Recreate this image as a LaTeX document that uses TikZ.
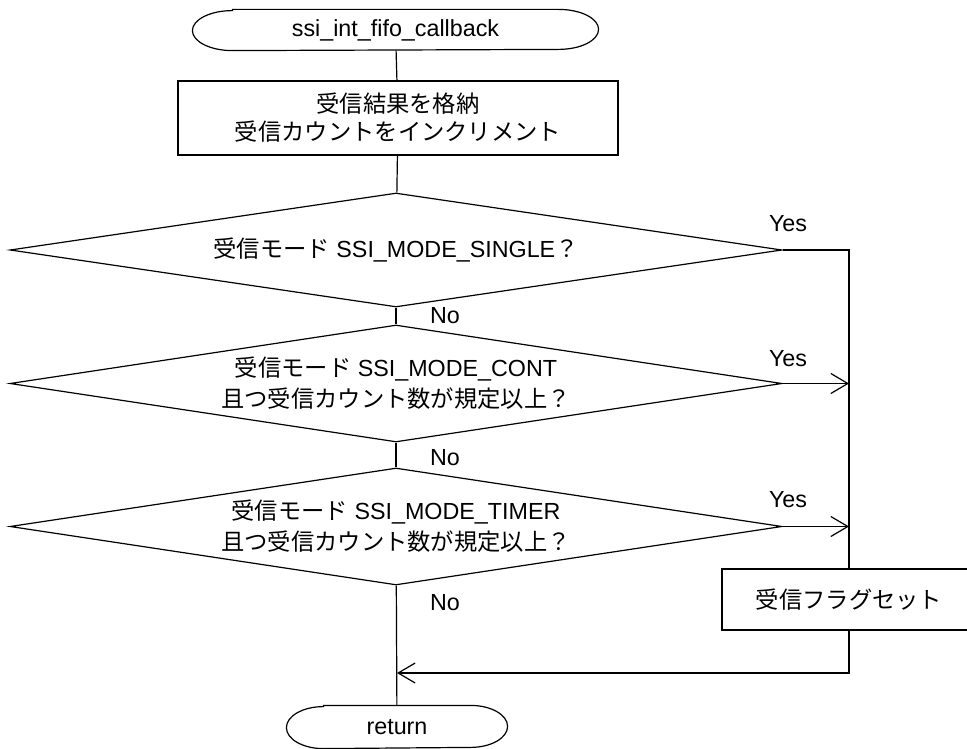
\documentclass[tikz,border=0pt]{standalone}
\usepackage{fontspec}
\setmainfont{Liberation Sans}
\newfontfamily\cjk{Noto Sans CJK JP}
\usetikzlibrary{shapes.geometric,arrows.meta}
\begin{document}
\begin{tikzpicture}[x=1pt,y=-1pt,line width=1.2pt,
  every node/.style={font=\fontsize{23.3}{28}\selectfont},
  term/.style={rectangle,inner sep=0pt},
  proc/.style={draw,rectangle,inner sep=0pt,align=center},
  dec/.style={draw,diamond,inner sep=0pt,minimum width=772pt},
  txt/.style={inner sep=0pt,align=center,font=\fontsize{23.3}{31}\selectfont},
  lbl/.style={inner sep=0pt},
  arr/.style={-{Straight Barb[length=17pt,width=20pt]}}]
\useasboundingbox (0,0) rectangle (967,749);
\clip (0,0) rectangle (967,749);
% nodes
\node[term,minimum width=405pt,minimum height=40pt] (start) at (395.5,30) {ssi\_int\_fifo\_callback};
\draw ([xshift=40pt]start.north west) -- ([xshift=-40pt]start.north east)
  arc[start angle=90,end angle=-90,x radius=40pt,y radius=20pt]
  -- ([xshift=40pt]start.south west)
  arc[start angle=-90,end angle=-270,x radius=40pt,y radius=20pt] -- cycle;
\node[proc,minimum width=440pt,minimum height=74pt] (p1) at (398,118) {{\cjk 受信結果を格納}\\{\cjk 受信カウントをインクリメント}};
\node[dec,minimum height=114pt] (d1) at (396,250) {};
\node[txt] (t1) at (d1.center) {{\cjk 受信モード} SSI\_MODE\_SINGLE{\cjk ？}};
\node[dec,minimum height=117pt] (d2) at (396,383.5) {};
\node[txt] (t2) at (d2.center) {{\cjk 受信モード} SSI\_MODE\_CONT\\{\cjk 且つ受信カウント数が規定以上？}};
\node[dec,minimum height=117pt] (d3) at (396,526.5) {};
\node[txt] (t3) at (d3.center) {{\cjk 受信モード} SSI\_MODE\_TIMER\\{\cjk 且つ受信カウント数が規定以上？}};
\node[proc,minimum width=254pt,minimum height=61pt] (flag) at (849,599.5) {{\cjk 受信フラグセット}};
\node[term,minimum width=220pt,minimum height=42pt] (ret) at (397,727) {return};
\draw ([xshift=37pt]ret.north west) -- ([xshift=-37pt]ret.north east)
  arc[start angle=90,end angle=-90,x radius=37pt,y radius=21pt]
  -- ([xshift=37pt]ret.south west)
  arc[start angle=-90,end angle=-270,x radius=37pt,y radius=21pt] -- cycle;
% labels
\node[lbl] (y1) at (788,224) {Yes};
\node[lbl] (y2) at (788,359) {Yes};
\node[lbl] (y3) at (788,500) {Yes};
\node[lbl] (n1) at (445,316) {No};
\node[lbl] (n2) at (445,458) {No};
\node[lbl] (n3) at (445,603) {No};
% coordinates
\coordinate (c1) at (849,250);
\coordinate (j2) at (849,383.5);
\coordinate (j3) at (849,526.5);
\coordinate (c4) at (849,673);
\coordinate (m) at (397,673);
% connectors
\draw (start) -- (p1);
\draw (p1) -- (d1);
\draw (d1) -- (d2);
\draw (d2) -- (d3);
\draw (d3) -- (ret);
\draw (d1.east) -- (c1) -- (flag.north);
\draw[arr] (d2.east) -- (j2);
\draw[arr] (d3.east) -- (j3);
\draw[arr] (flag.south) -- (c4) -- (m);
\end{tikzpicture}
\end{document}
